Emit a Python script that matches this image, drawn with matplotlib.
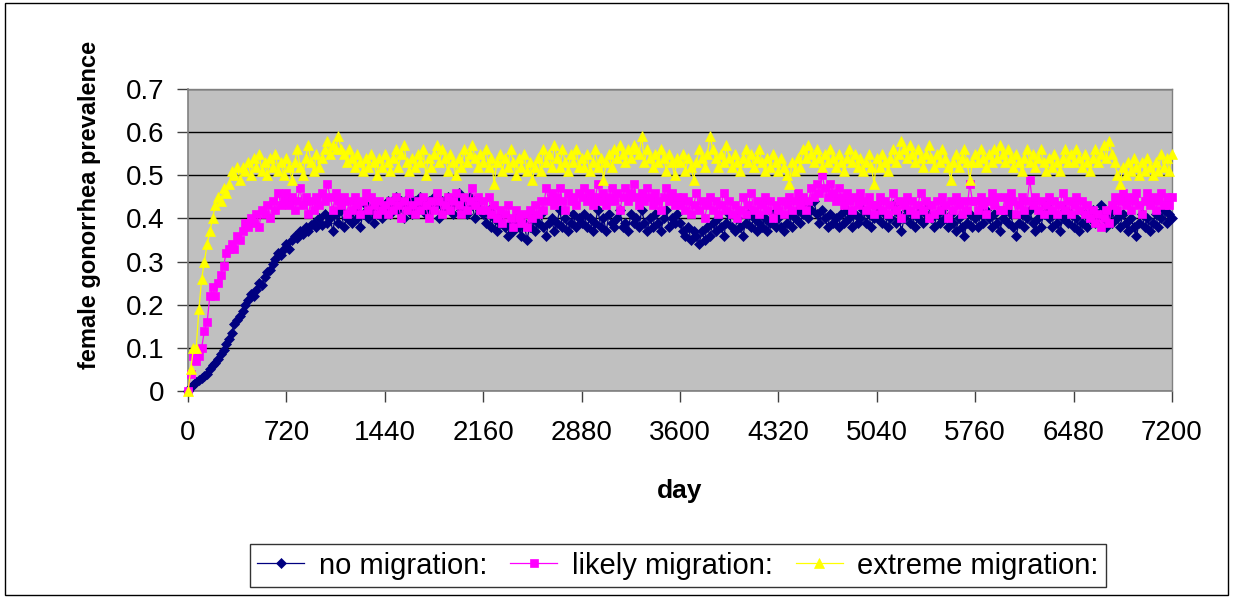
import numpy as np
import matplotlib
matplotlib.use("Agg")
import matplotlib.pyplot as plt
from matplotlib.patches import Rectangle

plt.rcParams['font.family'] = ['Liberation Sans', 'DejaVu Sans']

# simulation day (sampled every 20 days)
days = np.arange(0, 7201, 20)

no_migration = [
    0.00, 0.01, 0.015, 0.02, 0.025, 0.03, 0.035, 0.04, 0.05, 0.06, 0.065, 0.075, 0.085, 0.095, 0.11, 0.12, 0.135, 0.155,
    0.165, 0.175, 0.185, 0.20, 0.21, 0.225, 0.22, 0.235, 0.25, 0.245, 0.265, 0.275, 0.28, 0.295, 0.305, 0.32, 0.315, 0.33,
    0.34, 0.33, 0.35, 0.36, 0.355, 0.37, 0.365, 0.38, 0.37, 0.385, 0.39, 0.38, 0.40, 0.385, 0.41, 0.39, 0.40, 0.37,
    0.41, 0.39, 0.42, 0.38, 0.40, 0.41, 0.39, 0.42, 0.40, 0.38, 0.41, 0.43, 0.40, 0.42, 0.39, 0.41, 0.43, 0.40,
    0.42, 0.44, 0.41, 0.43, 0.45, 0.42, 0.44, 0.40, 0.43, 0.45, 0.41, 0.44, 0.42, 0.45, 0.43, 0.41, 0.44, 0.42,
    0.45, 0.43, 0.40, 0.44, 0.42, 0.45, 0.43, 0.41, 0.44, 0.46, 0.42, 0.44, 0.41, 0.45, 0.43, 0.40, 0.44, 0.42,
    0.41, 0.39, 0.42, 0.38, 0.40, 0.37, 0.39, 0.41, 0.38, 0.36, 0.39, 0.37, 0.40, 0.38, 0.36, 0.39, 0.35, 0.38,
    0.40, 0.37, 0.39, 0.41, 0.38, 0.36, 0.39, 0.40, 0.37, 0.39, 0.42, 0.38, 0.40, 0.37, 0.39, 0.41, 0.38, 0.40,
    0.39, 0.41, 0.38, 0.40, 0.37, 0.39, 0.42, 0.38, 0.40, 0.37, 0.41, 0.39, 0.38, 0.40, 0.42, 0.38, 0.39, 0.37,
    0.41, 0.39, 0.40, 0.38, 0.42, 0.39, 0.37, 0.40, 0.38, 0.41, 0.39, 0.37, 0.40, 0.42, 0.38, 0.40, 0.39, 0.41,
    0.39, 0.37, 0.36, 0.38, 0.35, 0.37, 0.36, 0.34, 0.37, 0.35, 0.38, 0.36, 0.39, 0.37, 0.40, 0.38, 0.36, 0.39,
    0.41, 0.38, 0.37, 0.40, 0.38, 0.36, 0.39, 0.41, 0.38, 0.40, 0.37, 0.39, 0.38, 0.40, 0.37, 0.39, 0.41, 0.38,
    0.40, 0.38, 0.37, 0.39, 0.41, 0.38, 0.40, 0.42, 0.39, 0.41, 0.43, 0.40, 0.42, 0.44, 0.41, 0.39, 0.42, 0.40,
    0.38, 0.41, 0.39, 0.40, 0.38, 0.41, 0.39, 0.42, 0.40, 0.38, 0.41, 0.39, 0.40, 0.42, 0.39, 0.41, 0.38, 0.40,
    0.40, 0.42, 0.39, 0.41, 0.38, 0.40, 0.43, 0.39, 0.41, 0.37, 0.40, 0.42, 0.39, 0.41, 0.38, 0.40, 0.42, 0.39,
    0.41, 0.43, 0.40, 0.38, 0.41, 0.39, 0.42, 0.40, 0.38, 0.41, 0.39, 0.37, 0.40, 0.38, 0.36, 0.39, 0.41, 0.38,
    0.40, 0.38, 0.41, 0.39, 0.42, 0.40, 0.38, 0.41, 0.39, 0.37, 0.40, 0.42, 0.39, 0.41, 0.38, 0.36, 0.39, 0.41,
    0.38, 0.40, 0.42, 0.39, 0.37, 0.40, 0.38, 0.41, 0.43, 0.40, 0.38, 0.41, 0.39, 0.37, 0.40, 0.42, 0.39, 0.41,
    0.38, 0.40, 0.37, 0.39, 0.41, 0.38, 0.40, 0.42, 0.39, 0.41, 0.43, 0.40, 0.38, 0.41, 0.39, 0.42, 0.40, 0.38,
    0.41, 0.39, 0.37, 0.40, 0.38, 0.36, 0.39, 0.41, 0.38, 0.40, 0.37, 0.39, 0.41, 0.38, 0.40, 0.42, 0.39, 0.41, 0.40,
]

likely_migration = [
    0.00, 0.04, 0.08, 0.07, 0.08, 0.10, 0.14, 0.16, 0.22, 0.24, 0.22, 0.25, 0.27, 0.29, 0.32, 0.33, 0.34, 0.33,
    0.36, 0.35, 0.37, 0.39, 0.38, 0.40, 0.39, 0.41, 0.38, 0.42, 0.41, 0.43, 0.40, 0.44, 0.42, 0.46, 0.43, 0.44,
    0.46, 0.43, 0.45, 0.42, 0.44, 0.47, 0.43, 0.45, 0.41, 0.44, 0.42, 0.45, 0.43, 0.46, 0.44, 0.48, 0.45, 0.42,
    0.46, 0.44, 0.43, 0.45, 0.41, 0.44, 0.42, 0.45, 0.43, 0.41, 0.44, 0.46, 0.42, 0.45, 0.43, 0.41, 0.44, 0.42,
    0.43, 0.41, 0.44, 0.42, 0.45, 0.43, 0.40, 0.44, 0.42, 0.46, 0.43, 0.41, 0.44, 0.42, 0.45, 0.43, 0.40, 0.44,
    0.42, 0.46, 0.44, 0.41, 0.43, 0.45, 0.42, 0.44, 0.46, 0.43, 0.41, 0.45, 0.42, 0.44, 0.47, 0.43, 0.45, 0.42,
    0.44, 0.42, 0.45, 0.41, 0.43, 0.40, 0.42, 0.39, 0.41, 0.43, 0.40, 0.38, 0.42, 0.40, 0.39, 0.41, 0.38, 0.42,
    0.40, 0.43, 0.41, 0.44, 0.42, 0.47, 0.44, 0.46, 0.43, 0.45, 0.47, 0.44, 0.42, 0.46, 0.44, 0.45, 0.43, 0.46,
    0.45, 0.47, 0.44, 0.46, 0.43, 0.45, 0.48, 0.44, 0.46, 0.43, 0.45, 0.47, 0.44, 0.46, 0.42, 0.45, 0.47, 0.44,
    0.46, 0.48, 0.45, 0.43, 0.46, 0.44, 0.47, 0.45, 0.43, 0.46, 0.44, 0.42, 0.45, 0.47, 0.44, 0.46, 0.43, 0.45,
    0.43, 0.45, 0.42, 0.44, 0.41, 0.43, 0.46, 0.42, 0.44, 0.40, 0.43, 0.45, 0.42, 0.44, 0.41, 0.43, 0.46, 0.42,
    0.44, 0.41, 0.43, 0.40, 0.42, 0.45, 0.41, 0.43, 0.46, 0.42, 0.44, 0.41, 0.43, 0.45, 0.42, 0.44, 0.40, 0.43,
    0.42, 0.44, 0.41, 0.43, 0.45, 0.42, 0.44, 0.46, 0.43, 0.45, 0.42, 0.44, 0.47, 0.45, 0.48, 0.46, 0.50, 0.47,
    0.45, 0.48, 0.46, 0.44, 0.47, 0.45, 0.43, 0.46, 0.44, 0.42, 0.45, 0.43, 0.46, 0.44, 0.42, 0.45, 0.43, 0.41,
    0.43, 0.45, 0.42, 0.44, 0.41, 0.43, 0.46, 0.42, 0.44, 0.40, 0.43, 0.45, 0.42, 0.44, 0.41, 0.43, 0.46, 0.42,
    0.44, 0.40, 0.43, 0.41, 0.44, 0.42, 0.45, 0.43, 0.40, 0.44, 0.42, 0.45, 0.43, 0.41, 0.44, 0.42, 0.48, 0.44,
    0.44, 0.42, 0.45, 0.43, 0.41, 0.44, 0.46, 0.43, 0.45, 0.42, 0.42, 0.45, 0.43, 0.46, 0.44, 0.41, 0.43, 0.45,
    0.42, 0.44, 0.49, 0.43, 0.45, 0.42, 0.44, 0.41, 0.43, 0.45, 0.42, 0.44, 0.41, 0.43, 0.46, 0.42, 0.44, 0.41,
    0.43, 0.45, 0.42, 0.44, 0.41, 0.43, 0.40, 0.42, 0.39, 0.41, 0.38, 0.40, 0.42, 0.39, 0.43, 0.45, 0.42, 0.44,
    0.46, 0.43, 0.45, 0.42, 0.44, 0.46, 0.43, 0.41, 0.44, 0.46, 0.43, 0.45, 0.42, 0.44, 0.46, 0.43, 0.45, 0.43, 0.45,
]

extreme_migration = [
    0.00, 0.05, 0.10, 0.10, 0.19, 0.26, 0.30, 0.34, 0.37, 0.40, 0.43, 0.45, 0.44, 0.47, 0.46, 0.48, 0.51, 0.50,
    0.52, 0.49, 0.52, 0.51, 0.53, 0.50, 0.54, 0.52, 0.55, 0.51, 0.53, 0.50, 0.54, 0.52, 0.55, 0.51, 0.53, 0.50,
    0.54, 0.52, 0.49, 0.53, 0.56, 0.52, 0.50, 0.54, 0.57, 0.53, 0.51, 0.55, 0.52, 0.54, 0.56, 0.58, 0.55, 0.57,
    0.56, 0.59, 0.56, 0.55, 0.53, 0.56, 0.54, 0.52, 0.55, 0.53, 0.51, 0.54, 0.52, 0.55, 0.53, 0.50, 0.54, 0.52,
    0.55, 0.53, 0.51, 0.54, 0.56, 0.52, 0.55, 0.57, 0.53, 0.51, 0.54, 0.52, 0.55, 0.53, 0.56, 0.50, 0.54, 0.52,
    0.55, 0.57, 0.53, 0.56, 0.54, 0.51, 0.55, 0.53, 0.50, 0.54, 0.52, 0.56, 0.53, 0.55, 0.57, 0.54, 0.52, 0.55,
    0.53, 0.56, 0.52, 0.54, 0.48, 0.53, 0.55, 0.51, 0.54, 0.52, 0.56, 0.53, 0.50, 0.54, 0.52, 0.55, 0.51, 0.53,
    0.49, 0.52, 0.54, 0.51, 0.56, 0.53, 0.55, 0.52, 0.57, 0.54, 0.52, 0.56, 0.53, 0.51, 0.55, 0.53, 0.56, 0.52,
    0.54, 0.52, 0.55, 0.51, 0.53, 0.56, 0.52, 0.54, 0.49, 0.53, 0.55, 0.52, 0.56, 0.54, 0.57, 0.55, 0.53, 0.56,
    0.54, 0.57, 0.56, 0.55, 0.59, 0.53, 0.56, 0.54, 0.52, 0.55, 0.53, 0.56, 0.54, 0.51, 0.55, 0.53, 0.50, 0.54,
    0.53, 0.55, 0.51, 0.54, 0.52, 0.49, 0.53, 0.56, 0.54, 0.52, 0.55, 0.59, 0.56, 0.54, 0.52, 0.55, 0.53, 0.57,
    0.54, 0.52, 0.55, 0.53, 0.51, 0.54, 0.56, 0.53, 0.55, 0.52, 0.54, 0.56, 0.53, 0.51, 0.54, 0.52, 0.55, 0.53,
    0.51, 0.54, 0.52, 0.50, 0.48, 0.53, 0.51, 0.54, 0.52, 0.56, 0.54, 0.57, 0.55, 0.53, 0.56, 0.54, 0.52, 0.55,
    0.53, 0.56, 0.54, 0.52, 0.55, 0.53, 0.51, 0.54, 0.56, 0.53, 0.55, 0.52, 0.54, 0.51, 0.53, 0.55, 0.52, 0.48,
    0.54, 0.52, 0.55, 0.53, 0.51, 0.54, 0.56, 0.53, 0.55, 0.58, 0.56, 0.54, 0.57, 0.55, 0.53, 0.56, 0.54, 0.52,
    0.55, 0.57, 0.54, 0.52, 0.55, 0.53, 0.56, 0.54, 0.52, 0.49, 0.53, 0.55, 0.52, 0.54, 0.56, 0.53, 0.49, 0.53,
    0.55, 0.53, 0.56, 0.54, 0.52, 0.55, 0.53, 0.56, 0.54, 0.57, 0.55, 0.53, 0.56, 0.54, 0.52, 0.55, 0.53, 0.51,
    0.54, 0.56, 0.53, 0.55, 0.52, 0.54, 0.56, 0.53, 0.51, 0.54, 0.52, 0.55, 0.53, 0.51, 0.54, 0.56, 0.53, 0.55,
    0.53, 0.56, 0.54, 0.52, 0.55, 0.53, 0.51, 0.54, 0.56, 0.53, 0.55, 0.57, 0.54, 0.58, 0.55, 0.53, 0.50, 0.48,
    0.52, 0.50, 0.53, 0.51, 0.54, 0.52, 0.50, 0.53, 0.51, 0.54, 0.52, 0.50, 0.53, 0.51, 0.55, 0.52, 0.54, 0.51, 0.55,
]

series_labels = ["no migration:", "likely migration:", "extreme migration:"]
x_ticks = np.arange(0, 7201, 720)
y_ticks = [0, 0.1, 0.2, 0.3, 0.4, 0.5, 0.6, 0.7]
y_tick_labels = ["0", "0.1", "0.2", "0.3", "0.4", "0.5", "0.6", "0.7"]

W, H = 1233, 598
fig = plt.figure(figsize=(W / 100, H / 100), dpi=100)
fig.patch.set_facecolor("white")
ax = fig.add_axes([188 / W, 1 - 391 / H, (1172 - 188) / W, (391 - 89) / H])
ax.set_facecolor("#C0C0C0")

styles = [
    dict(color="#000080", marker="D", markersize=5.5),
    dict(color="#FF00FF", marker="s", markersize=6),
    dict(color="#FFFF00", marker="^", markersize=7.5),
]
for vals, lab, st in zip([no_migration, likely_migration, extreme_migration], series_labels, styles):
    ax.plot(days, vals, label=lab, linewidth=0.9, color=st["color"], marker=st["marker"],
            markersize=st["markersize"], markerfacecolor=st["color"], markeredgecolor=st["color"],
            markeredgewidth=0.5, clip_on=False, zorder=3)

ax.set_xlim(0, 7200)
ax.set_ylim(0, 0.7)
ax.set_xticks(x_ticks)
ax.set_xticklabels([str(t) for t in x_ticks])
ax.set_yticks(y_ticks)
ax.set_yticklabels(y_tick_labels)
ax.yaxis.grid(True, color="black", linewidth=1)
ax.set_axisbelow(True)

for side in ["top", "right"]:
    ax.spines[side].set_color("#808080")
    ax.spines[side].set_linewidth(1)
for side in ["left", "bottom"]:
    ax.spines[side].set_color("#808080")
    ax.spines[side].set_linewidth(1.2)

ax.tick_params(axis="both", direction="out", length=8, width=1, color="#404040", labelsize=20)
ax.tick_params(axis="x", pad=13)
ax.tick_params(axis="y", pad=9)

ax.set_xlabel("day", fontsize=19, fontweight="bold")
ax.set_ylabel("female gonorrhea prevalence", fontsize=17, fontweight="bold")
ax.xaxis.set_label_coords(0.5, -0.33)
ax.xaxis.label.set_verticalalignment("center")
ax.yaxis.set_label_coords(-0.0996, 0.616)
ax.yaxis.label.set_verticalalignment("center")

leg = fig.legend(loc="center", bbox_to_anchor=(678 / W, 1 - 565.5 / H), ncol=3, fontsize=21,
                 frameon=True, fancybox=False, shadow=False, handlelength=1.6, handletextpad=0.5,
                 columnspacing=0.8, borderpad=0.25, borderaxespad=0)
leg.get_frame().set_edgecolor("black")
leg.get_frame().set_linewidth(1)

fig.patches.append(Rectangle((5 / W, 3 / H), 1223 / W, 592 / H, transform=fig.transFigure,
                             fill=False, edgecolor="black", linewidth=1))

fig.savefig("out.png", dpi=100)
